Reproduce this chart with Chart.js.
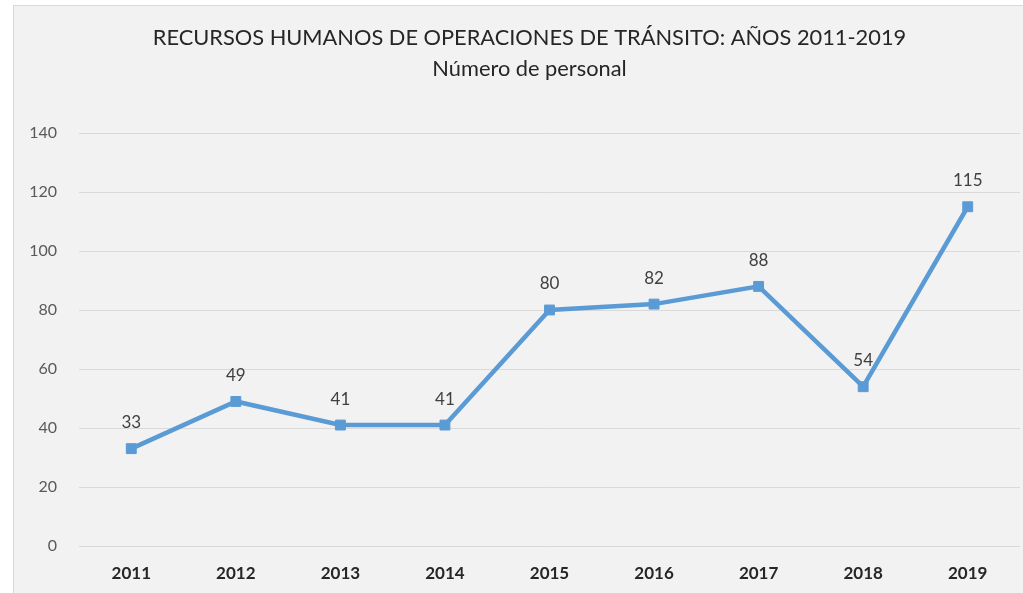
<!DOCTYPE html>
<html>
<head>
<meta charset="utf-8">
<script src="https://cdn.jsdelivr.net/npm/chart.js@4"></script>
<style>
  html, body { margin: 0; padding: 0; background: #ffffff; overflow: hidden; }
  #panel {
    position: absolute; left: 13px; top: 5px; width: 1010px; height: 600px;
    background: #f2f2f2; border-left: 1px solid #d9d9d9; border-top: 1px solid #d9d9d9;
  }
  #chart { position: absolute; left: 0; top: 0; }
</style>
</head>
<body>
<div id="panel"><canvas id="chart" width="1014" height="590"></canvas></div>
<script>
const years = ['2011', '2012', '2013', '2014', '2015', '2016', '2017', '2018', '2019'];
const staff = [33, 49, 41, 41, 80, 82, 88, 54, 115];
const yTicks = [0, 20, 40, 60, 80, 100, 120, 140];
const titleLines = ['RECURSOS HUMANOS DE OPERACIONES DE TRÁNSITO: AÑOS 2011-2019', 'Número de personal'];

const FONT = 'Lato, "Open Sans", sans-serif';

// two-line heading, centred a little left of the plot centre
const heading = {
  id: 'heading',
  afterDraw(chart) {
    const ctx = chart.ctx;
    const cx = (chart.chartArea.left + chart.chartArea.right) / 2 - 20;
    ctx.save();
    ctx.font = '21.8px ' + FONT;
    ctx.fillStyle = '#262626';
    ctx.textAlign = 'center';
    ctx.textBaseline = 'middle';
    ctx.fillText(titleLines[0], cx, 32);
    ctx.fillText(titleLines[1], cx, 63);
    ctx.restore();
  }
};

// value labels above each point
const pointLabels = {
  id: 'pointLabels',
  afterDatasetsDraw(chart) {
    const ctx = chart.ctx;
    const meta = chart.getDatasetMeta(0);
    ctx.save();
    ctx.font = '17px ' + FONT;
    ctx.fillStyle = '#404040';
    ctx.textAlign = 'center';
    ctx.textBaseline = 'middle';
    meta.data.forEach((pt, i) => {
      ctx.fillText(String(staff[i]), pt.x, pt.y - 26);
    });
    ctx.restore();
  }
};

new Chart(document.getElementById('chart').getContext('2d'), {
  type: 'line',
  data: {
    labels: years,
    datasets: [{
      data: staff,
      borderColor: '#5b9bd5',
      backgroundColor: '#5b9bd5',
      borderWidth: 4.5,
      pointStyle: 'rect',
      pointRadius: 7,
      pointBorderWidth: 1,
      pointBackgroundColor: '#5b9bd5',
      pointBorderColor: '#5b9bd5',
      tension: 0,
      fill: false
    }]
  },
  options: {
    responsive: false,
    animation: false,
    layout: { padding: { left: 0, right: 1, top: 127, bottom: 0 } },
    plugins: {
      legend: { display: false },
      tooltip: { enabled: false },
      title: { display: false }
    },
    scales: {
      x: {
        offset: true,
        grid: { display: false, drawTicks: false },
        border: { display: false },
        ticks: { color: '#262626', padding: 17, font: { family: FONT, size: 17, weight: 'bold' } },
        afterFit(scale) { scale.height = 50; }
      },
      y: {
        min: 0,
        max: 140,
        afterBuildTicks(scale) { scale.ticks = yTicks.map(v => ({ value: v })); },
        grid: { color: '#d9d9d9', lineWidth: 1, drawTicks: false },
        border: { display: false },
        ticks: { color: '#595959', padding: 22, font: { family: FONT, size: 16 } },
        afterFit(scale) { scale.width = 65; }
      }
    }
  },
  plugins: [pointLabels, heading]
});
</script>
</body>
</html>
